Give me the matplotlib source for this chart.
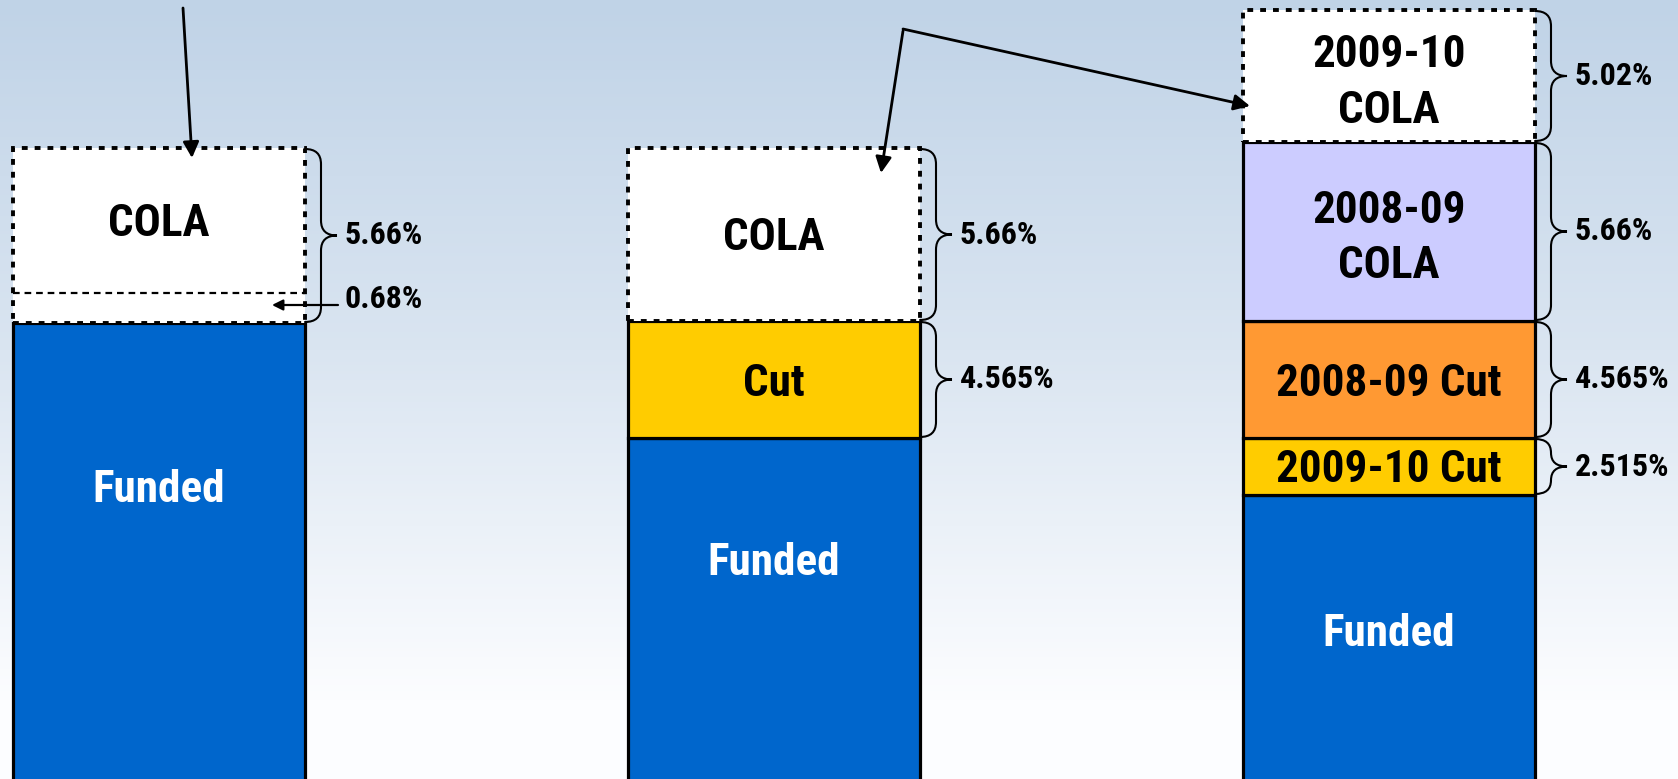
import numpy as np
import matplotlib
matplotlib.use("Agg")
import matplotlib.pyplot as plt
from matplotlib.patches import Rectangle, PathPatch
from matplotlib.path import Path
from matplotlib import font_manager as fm

# ---------------- data ----------------
bar_positions = [0, 1, 2]

# segment heights (bottom -> top) in chart units
bar0_heights = [45.9, 3.0, 14.5]
bar0_labels = ["Funded", "", "COLA"]
bar0_colors = ["#0066CC", "white", "white"]

bar1_heights = [34.4, 11.7, 17.3]
bar1_labels = ["Funded", "Cut", "COLA"]
bar1_colors = ["#0066CC", "#FFCC00", "white"]

bar2_heights = [28.7, 5.7, 11.7, 17.9, 13.2]
bar2_labels = ["Funded", "2009-10 Cut", "2008-09 Cut", "2008-09\nCOLA", "2009-10\nCOLA"]
bar2_colors = ["#0066CC", "#FFCC00", "#FF9933", "#CCCCFF", "white"]

# percentage braces: (first segment, last segment, text)
bar0_braces = [(1, 2, "5.66%")]
bar1_braces = [(1, 1, "4.565%"), (2, 2, "5.66%")]
bar2_braces = [(1, 1, "2.515%"), (2, 2, "4.565%"), (3, 3, "5.66%"), (4, 4, "5.02%")]
bar0_note = "0.68%"

# which segments are the dashed (unfunded COLA) boxes: (first, last)
dashed_boxes = [(1, 2), (2, 2), (4, 4)]

bars = [
    (bar0_heights, bar0_labels, bar0_colors, bar0_braces),
    (bar1_heights, bar1_labels, bar1_colors, bar1_braces),
    (bar2_heights, bar2_labels, bar2_colors, bar2_braces),
]

# ---------------- fonts ----------------
def pick_font(cands):
    for c in cands:
        try:
            fm.findfont(fm.FontProperties(family=c), fallback_to_default=False)
            return c
        except Exception:
            pass
    return "DejaVu Sans"

FONT = pick_font(["Liberation Sans Narrow", "Arial Narrow", "Roboto Condensed",
                  "Liberation Sans", "Arial"])
plt.rcParams["font.family"] = [FONT, "DejaVu Sans"]

# ---------------- figure ----------------
W, H = 1678, 779
fig = plt.figure(figsize=(W / 100, H / 100), dpi=100)
ax = fig.add_axes([0, 0, 1, 1])
px_per_unit_x = 615.0
x_left = -159.0 / px_per_unit_x
ax.set_xlim(x_left, x_left + W / px_per_unit_x)
ax.set_ylim(0.3, 0.3 + H / 10.0)
ax.axis("off")

# background gradient (light steel blue at top fading to white)
grad = np.linspace(0, 1, 256)[:, None]
top = np.array([192, 211, 231]) / 255.0
mid = np.array([218, 229, 241]) / 255.0
bot = np.array([252, 253, 255]) / 255.0
cols = np.where(grad < 0.45,
                top + (mid - top) * (grad / 0.45),
                mid + (bot - mid) * np.clip((grad - 0.45) / 0.45, 0, 1))
img = cols[:, None, :].repeat(2, axis=1)
ax.imshow(img, extent=[ax.get_xlim()[0], ax.get_xlim()[1], ax.get_ylim()[0], ax.get_ylim()[1]],
          origin="upper", aspect="auto", zorder=0)

bar_width = 292.0 / px_per_unit_x
brace_w = 32.0 / px_per_unit_x
funded_label_y = [29.2, 21.9, 14.8]


def brace(x0, y_bot, y_top, w, r=1.5):
    xm = x0 + w / 2.0
    ymid = (y_bot + y_top) / 2.0
    r = min(r, (y_top - y_bot) / 4.0)
    verts = [
        (x0, y_top), (xm, y_top), (xm, y_top - r),
        (xm, ymid + r),
        (xm, ymid), (x0 + w, ymid),
        (xm, ymid), (xm, ymid - r),
        (xm, y_bot + r),
        (xm, y_bot), (x0, y_bot),
    ]
    codes = [Path.MOVETO, Path.CURVE3, Path.CURVE3, Path.LINETO,
             Path.CURVE3, Path.CURVE3, Path.CURVE3, Path.CURVE3,
             Path.LINETO, Path.CURVE3, Path.CURVE3]
    ax.add_patch(PathPatch(Path(verts, codes), fill=False, lw=1.5,
                           edgecolor="black", zorder=5, capstyle="round"))


for i, (heights, labels, colors, braces) in enumerate(bars):
    x = bar_positions[i]
    bottoms = np.concatenate([[0], np.cumsum(heights)[:-1]])
    dash_first, dash_last = dashed_boxes[i]
    for j, (h, lab, c, b) in enumerate(zip(heights, labels, colors, bottoms)):
        is_dashed = dash_first <= j <= dash_last
        ax.bar(x, h, bottom=b, width=bar_width, color=c,
               edgecolor="none" if is_dashed else "black",
               linewidth=0 if is_dashed else 2.3, zorder=2)
        if lab:
            if j == 0:
                ty = funded_label_y[i]
                tc = "white"
            else:
                ty = b + h / 2.0 - (0.7 if "\n" in lab else 0.4)
                tc = "black"
            ax.text(x, ty, lab, ha="center", va="center", color=tc,
                    fontsize=32.5, fontweight="bold", linespacing=1.42, zorder=6)
    # dashed outline of the COLA box
    yb = bottoms[dash_first]
    yt = bottoms[dash_last] + heights[dash_last]
    ax.add_patch(Rectangle((x - bar_width / 2, yb), bar_width, yt - yb, fill=False,
                           edgecolor="black", lw=2.8, linestyle=(0, (1.5, 1.8)), zorder=4))
    # braces with percentages
    xr = x + bar_width / 2
    for (s0, s1, txt) in braces:
        y0 = bottoms[s0]
        y1 = bottoms[s1] + heights[s1]
        brace(xr, y0 + 0.1, y1 - 0.1, brace_w)
        ax.text(xr + 40.0 / px_per_unit_x, (y0 + y1) / 2.0, txt, ha="left", va="center",
                fontsize=23, fontweight="bold", color="black", zorder=6)

# inner dashed line in first bar (funded part of COLA)
b0_bottoms = np.cumsum(bar0_heights)
ax.plot([bar_positions[0] - bar_width / 2, bar_positions[0] + bar_width / 2],
        [b0_bottoms[1], b0_bottoms[1]], color="black", lw=1.6,
        linestyle=(0, (3.0, 2.2)), zorder=4)
y_note = bar0_heights[0] + bar0_heights[1] / 2.0 + 0.3
xr0 = bar_positions[0] + bar_width / 2
ax.text(xr0 + 40.0 / px_per_unit_x, y_note + 0.6, bar0_note, ha="left", va="center",
        fontsize=23, fontweight="bold", color="black", zorder=6)
ax.annotate("", xy=(xr0 - 33.0 / px_per_unit_x, y_note),
            xytext=(xr0 + 33.0 / px_per_unit_x, y_note),
            arrowprops=dict(arrowstyle="-|>", lw=1.6, color="black",
                            mutation_scale=16, shrinkA=0, shrinkB=0), zorder=7)


# pointer arrows (figure pixel coordinates)
def fpx(xp, yp):
    return (xp / W, 1 - yp / H)

arrow_style = dict(arrowstyle="-|>", lw=2.0, color="black", mutation_scale=24,
                   shrinkA=0, shrinkB=0)
ax.annotate("", xy=fpx(192, 158), xytext=fpx(183, 8), xycoords="figure fraction",
            textcoords="figure fraction", arrowprops=arrow_style, zorder=7)
ax.annotate("", xy=fpx(881, 173), xytext=fpx(903, 31), xycoords="figure fraction",
            textcoords="figure fraction", arrowprops=arrow_style, zorder=7)
ax.annotate("", xy=fpx(1250, 106), xytext=fpx(903, 29), xycoords="figure fraction",
            textcoords="figure fraction", arrowprops=arrow_style, zorder=7)

fig.savefig("out.png", dpi=100)
